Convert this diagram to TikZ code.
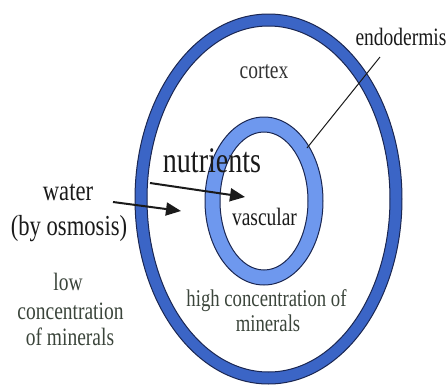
\documentclass[tikz,border=0pt]{standalone}
\usepackage{fontspec}
\setmainfont{Liberation Serif}
\usetikzlibrary{arrows.meta}
\definecolor{outerblue}{HTML}{3B65C6}
\definecolor{innerblue}{HTML}{6E98EE}
\definecolor{ringline}{HTML}{1B2752}
\definecolor{mintext}{HTML}{3B453B}
\definecolor{maintext}{HTML}{1A1A1A}
\tikzset{
  lbl/.style={inner sep=0pt, anchor=base, xscale=0.78, text=maintext, font=\fontsize{25}{28}\selectfont},
  minlbl/.style={lbl, text=mintext, align=center},
  flowarrow/.style={line width=2pt, -{Triangle[length=15pt,width=13pt]}, maintext},
  pointer/.style={line width=1pt, maintext}
}
\begin{document}
\begin{tikzpicture}[x=1pt,y=-1pt]
\useasboundingbox (0,0) rectangle (448,386);
% outer ring
\fill[outerblue, even odd rule, draw=ringline, line width=1pt]
  (268.5,199) ellipse [x radius=133.5, y radius=185]
  (268.5,199) ellipse [x radius=121.5, y radius=173];
% inner ring
\fill[innerblue, even odd rule, draw=ringline, line width=1pt]
  (264,201) ellipse [x radius=59, y radius=84]
  (264,201) ellipse [x radius=44, y radius=69];
% labels
\node[lbl] (endo) at (401,45) {endodermis};
\node[lbl, text=black!80] (cortex) at (264,78) {cortex};
\node[lbl, font=\fontsize{36}{40}\selectfont] (nutr) at (212,172) {nutrients};
\node[lbl] (vasc) at (264.5,225) {vascular};
\node[lbl, font=\fontsize{29}{34}\selectfont] (water) at (68,200) {water};
\node[lbl, font=\fontsize{29}{34}\selectfont] (osm) at (69,235) {(by osmosis)};
\node[minlbl] (low1) at (68,290) {low};
\node[minlbl] (low2) at (70.5,319) {concentration};
\node[minlbl] (low3) at (70,345) {of minerals};
\node[minlbl, font=\fontsize{24}{27}\selectfont] (high1) at (266.5,306) {high concentration of};
\node[minlbl, font=\fontsize{24}{27}\selectfont] (high2) at (268,331) {minerals};
% connectors
\coordinate (wstart) at (113,202);
\coordinate (wend) at (181,211);
\coordinate (nstart) at (150,183);
\coordinate (nend) at (245,197);
\coordinate (estart) at (380,57);
\coordinate (eend) at (307,148);
\draw[flowarrow] (wstart) -- (wend);
\draw[flowarrow] (nstart) -- (nend);
\draw[pointer] (estart) -- (eend);
\end{tikzpicture}
\end{document}
